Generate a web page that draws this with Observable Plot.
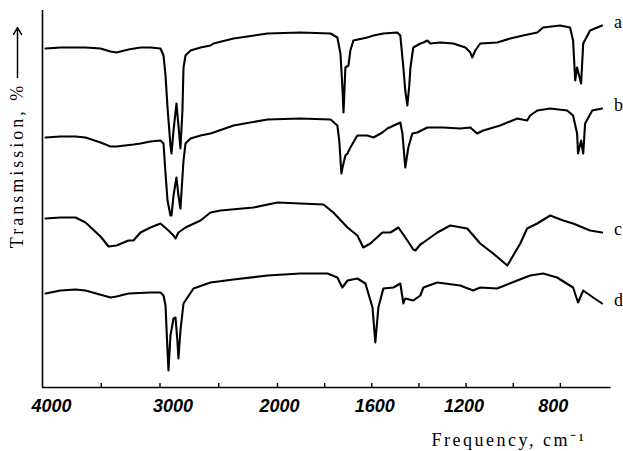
<!DOCTYPE html>
<html>
<head>
<meta charset="utf-8">
<script src="https://cdn.jsdelivr.net/npm/d3@7"></script>
<script src="https://cdn.jsdelivr.net/npm/@observablehq/plot@0.6"></script>
<style>
  html, body { margin: 0; padding: 0; background: #fff; }
  #chart { width: 623px; height: 451px; overflow: hidden; }
</style>
</head>
<body>
<div id="chart"></div>
<script>
// Wavenumbers (cm-1) and transmission readings (arbitrary offset units) for each spectrum
const aWn = [3974,3847,3634,3506,3421,3370,3268,3166,3081,2996,2970,2953,2936,2911,2902,2885,2860,2843,2826,2809,2800,2783,2740,2655,2570,2545,2374,2085,1903,1775,1746,1733,1725,1720,1716,1712,1699,1691,1678,1619,1593,1551,1492,1479,1466,1458,1449,1441,1436,1424,1394,1381,1364,1352,1309,1254,1203,1182,1174,1161,1140,1068,1013,958,898,873,801,759,746,737,729,712,703,674,623];
const aT  = [352,353,353,352,349,348,351,353,353,352,345,325,293,255,247,270,297,275,252,290,333,345,350,353,355,357,362,367,368,367,363,347,315,288,310,333,335,350,360,363,365,367,368,365,333,310,295,315,333,353,357,358,360,357,358,357,353,348,343,350,357,358,362,365,368,373,375,373,360,320,333,317,357,370,375];

const bWn = [3974,3847,3719,3634,3506,3421,3370,3226,3166,3081,2996,2970,2953,2936,2911,2902,2885,2860,2843,2826,2800,2783,2740,2655,2570,2545,2374,2085,1903,1775,1746,1738,1729,1725,1712,1703,1691,1661,1619,1593,1555,1534,1479,1470,1458,1445,1428,1407,1364,1297,1225,1182,1153,1127,1055,983,941,928,898,843,771,746,729,725,712,703,695,665,623];
const bT  = [263,264,264,263,258,254,254,256,257,259,260,257,227,200,185,185,205,223,205,192,240,257,262,265,267,268,275,281,282,281,275,260,227,232,245,247,253,265,265,263,268,272,278,267,233,253,267,268,273,273,272,273,267,270,275,282,280,285,290,292,290,285,267,247,260,247,277,290,292];

const cWn = [3974,3847,3719,3634,3506,3438,3370,3268,3226,3166,3081,2996,2928,2885,2868,2843,2783,2655,2570,2485,2204,2000,1903,1805,1763,1703,1661,1636,1606,1555,1521,1487,1449,1424,1415,1394,1381,1322,1267,1195,1140,1085,1025,970,941,898,843,788,746,674,623];
const cT  = [182,183,183,178,164,154,155,160,160,168,173,177,170,165,162,168,173,180,188,190,193,198,197,196,188,173,165,153,157,168,168,173,160,151,150,156,158,168,175,172,157,147,135,157,172,177,185,180,177,170,168];

const dWn = [3974,3847,3719,3634,3421,3370,3268,3081,2996,2970,2953,2940,2928,2911,2885,2868,2852,2843,2826,2800,2715,2570,2374,2085,1903,1788,1746,1725,1703,1661,1627,1597,1585,1572,1551,1508,1479,1466,1458,1424,1394,1381,1322,1225,1170,1140,1068,983,928,873,814,746,725,703,661,623];
const dT  = [107,110,111,110,103,104,107,108,108,105,95,60,30,65,82,83,60,42,70,97,112,118,121,125,127,127,123,113,120,122,117,93,58,93,112,113,117,97,102,100,105,113,118,115,110,113,112,120,125,127,123,113,98,110,103,97];

const seriesNames = ["a", "b", "c", "d"];
const tickValues = [3500, 3000, 2500, 2000, 1800, 1600, 1400, 1200, 1000, 800];
const tickLabels = [4000, 3000, 2000, 1600, 1200, 800];

const wnArrays = [aWn, bWn, cWn, dWn];
const tArrays = [aT, bT, cT, dT];
const rows = seriesNames.flatMap((s, i) => wnArrays[i].map((wn, j) => ({s, wn, t: tArrays[i][j]})));
const ends = seriesNames.map((s, i) => ({s, wn: wnArrays[i].at(-1), t: tArrays[i].at(-1)}));

const labelShift = {4000: 9, 3000: 13, 2000: 2, 1600: 3, 1200: -2, 800: -7};

const plot = Plot.plot({
  width: 623,
  height: 451,
  marginLeft: 42,
  marginTop: 10,
  marginRight: 16,
  marginBottom: 64,
  style: {background: "#fff", color: "#000"},
  x: {type: "linear", domain: [4000, 2000, 600], range: [42, 277, 607], axis: null},
  y: {domain: [13, 390], range: [387, 10], axis: null},
  marks: [
    // axes
    Plot.ruleY([13], {x1: 4000, x2: 585, stroke: "#000", strokeWidth: 1.6}),
    Plot.ruleX([4000], {y1: 13, y2: 390, stroke: "#000", strokeWidth: 1.6}),
    Plot.ruleX(tickValues, {y1: 13, y2: 17, stroke: "#000", strokeWidth: 1.4}),
    Plot.text(tickLabels, {
      x: d => d, y: 13, dy: 19,
      text: d => String(d),
      fontFamily: "'Liberation Sans', Arial, sans-serif",
      fontStyle: "italic", fontWeight: "bold", fontSize: 18,
      fill: "#000"
    }),
    // spectra
    Plot.line(rows, {x: "wn", y: "t", z: "s", stroke: "#000", strokeWidth: 2.1, strokeLinejoin: "round", strokeLinecap: "round"}),
    Plot.text(ends, {x: "wn", y: "t", text: "s", dx: 12, dy: -3, textAnchor: "start",
      fontFamily: "'Liberation Serif', serif", fontSize: 18, fill: "#000"}),
    // y label and arrow
    Plot.text(["Transmission, %"], {
      x: 4000, y: 235, dx: -25, rotate: -90, textAnchor: "middle",
      fontFamily: "'Liberation Serif', serif", fontSize: 18, fill: "#000"
    }),
    Plot.arrow([0], {x1: 4000, x2: 4000, y1: 323, y2: 373, dx: -25, stroke: "#000", strokeWidth: 1.5, headLength: 8, bend: 0}),
    // x label
    Plot.text(["Frequency, cm⁻¹"], {
      x: 690, y: 13, dy: 53, textAnchor: "end",
      fontFamily: "'Liberation Serif', serif", fontSize: 18, fill: "#000"
    })
  ]
});

// letter spacing for the typewriter-like titles and tick label nudges
d3.select(plot).selectAll("text").each(function() {
  const t = this.textContent;
  if (t === "Transmission, %") this.setAttribute("letter-spacing", "3");
  if (t === "Frequency, cm⁻¹") this.setAttribute("letter-spacing", "2.5");
  if (t in labelShift) this.setAttribute("dx", labelShift[t]);
});

document.getElementById("chart").appendChild(plot);
</script>
</body>
</html>
